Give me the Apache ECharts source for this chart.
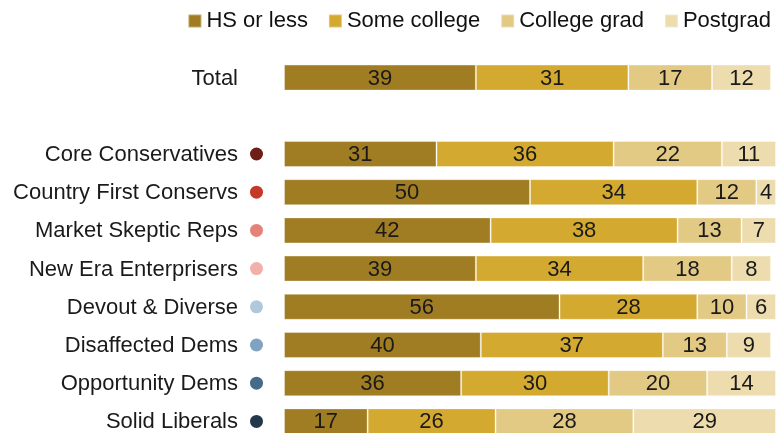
<!DOCTYPE html>
<html><head><meta charset="utf-8">
<script src="https://cdn.jsdelivr.net/npm/echarts@6/dist/echarts.min.js"></script>
<style>html,body{margin:0;padding:0;background:#fff}#c{width:781px;height:433px}</style>
</head><body><div id="c"></div>
<script>
const categories = ["Total", "", "Core Conservatives", "Country First Conservs", "Market Skeptic Reps", "New Era Enterprisers", "Devout & Diverse", "Disaffected Dems", "Opportunity Dems", "Solid Liberals"];
const dotColors = [null, null, "#6b1f16", "#c43a2a", "#e2827a", "#f2b0aa", "#b0c8dc", "#7fa3c0", "#466b8a", "#23384a"];
const seriesNames = ["HS or less", "Some college", "College grad", "Postgrad"];
const hsOrLess   = [39, null, 31, 50, 42, 39, 56, 40, 36, 17];
const someCollege= [31, null, 36, 34, 38, 34, 28, 37, 30, 26];
const collegeGrad= [17, null, 22, 12, 13, 18, 10, 13, 20, 28];
const postgrad   = [12, null, 11, 4, 7, 8, 6, 9, 14, 29];
const barColors = ["#a07d22", "#d4a92f", "#e2c984", "#eddcae"];

const FONT = "'Liberation Sans', Arial, sans-serif";
const rich = {
  t: { fontSize: 22, color: "#1a1a1a", fontFamily: FONT, padding: [2, 12, 0, 0] },
  tt: { fontSize: 22, color: "#1a1a1a", fontFamily: FONT, padding: [2, 25, 0, 0] }
};
dotColors.forEach((c, i) => { if (c) rich["d" + i] = { width: 13, height: 13, borderRadius: 6.5, backgroundColor: c }; });

const data = [hsOrLess, someCollege, collegeGrad, postgrad];
const chart = echarts.init(document.getElementById("c"));
chart.setOption({
  animation: false,
  legend: {
    top: 5, right: 5, itemWidth: 13, itemHeight: 13, itemGap: 20, icon: "rect",
    textStyle: { fontSize: 22, color: "#111", fontFamily: FONT },
    data: seriesNames
  },
  grid: { left: 284, right: 5, top: 58.5, bottom: -7.5, containLabel: false, outerBoundsMode: "none" },
  xAxis: { type: "value", min: 0, max: 100, show: false },
  yAxis: {
    type: "category", inverse: true, data: categories,
    axisLine: { show: false }, axisTick: { show: false },
    axisLabel: {
      margin: 21,
      formatter: (v, i) => {
        if (!v) return "";
        return dotColors[i] ? "{t|" + v + "}{d" + i + "|}" : "{tt|" + v + "}";
      },
      rich: rich
    }
  },
  series: seriesNames.map((n, k) => ({
    name: n, type: "bar", stack: "a", barWidth: 26,
    itemStyle: { color: barColors[k], borderColor: "rgba(255,255,255,0.35)", borderWidth: 1 },
    label: { show: true, position: "inside", fontSize: 22, color: "#1a1a1a", fontFamily: FONT, offset: [0, 1] },
    data: data[k]
  }))
});
</script></body></html>
